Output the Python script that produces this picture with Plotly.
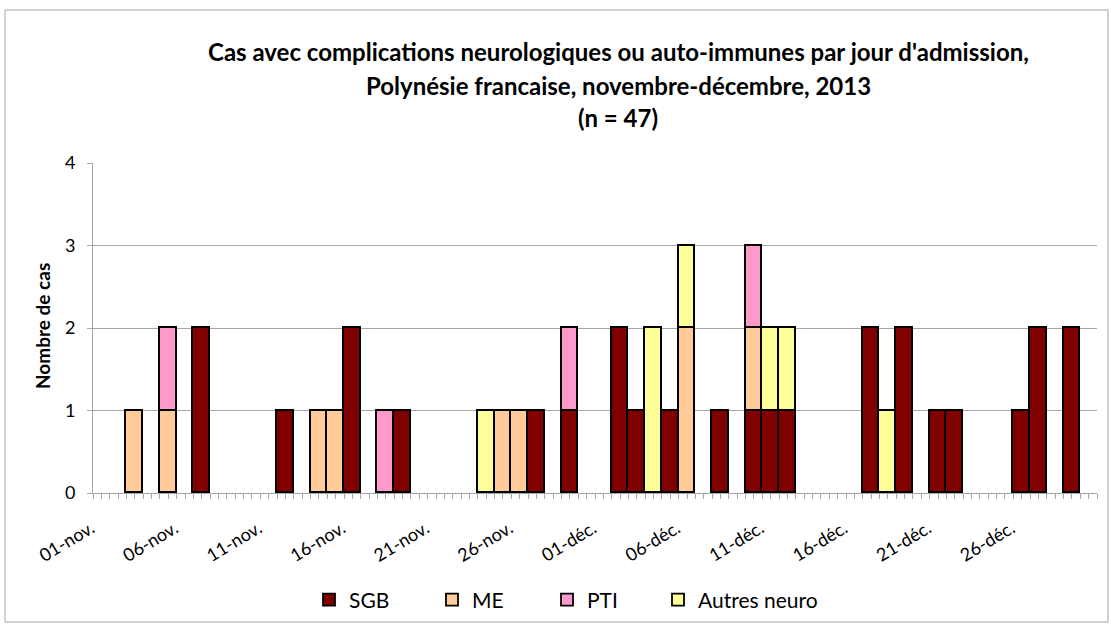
import plotly.graph_objects as go

# Days (2013) and counts per category
dates = ["2013-11-03", "2013-11-05", "2013-11-07", "2013-11-12", "2013-11-14", "2013-11-15",
         "2013-11-16", "2013-11-18", "2013-11-19", "2013-11-24", "2013-11-25", "2013-11-26",
         "2013-11-27", "2013-11-29", "2013-12-02", "2013-12-03", "2013-12-04", "2013-12-05",
         "2013-12-06", "2013-12-08", "2013-12-10", "2013-12-11", "2013-12-12", "2013-12-17",
         "2013-12-18", "2013-12-19", "2013-12-21", "2013-12-22", "2013-12-26", "2013-12-27",
         "2013-12-29"]
sgb    = [0, 0, 2, 1, 0, 0, 2, 0, 1, 0, 0, 0, 1, 1, 2, 1, 0, 1, 0, 1, 1, 1, 1, 2, 0, 2, 1, 1, 1, 2, 2]
me     = [1, 1, 0, 0, 1, 1, 0, 0, 0, 0, 1, 1, 0, 0, 0, 0, 0, 0, 2, 0, 1, 0, 0, 0, 0, 0, 0, 0, 0, 0, 0]
pti    = [0, 1, 0, 0, 0, 0, 0, 1, 0, 0, 0, 0, 0, 1, 0, 0, 0, 0, 0, 0, 1, 0, 0, 0, 0, 0, 0, 0, 0, 0, 0]
autres = [0, 0, 0, 0, 0, 0, 0, 0, 0, 1, 0, 0, 0, 0, 0, 0, 2, 0, 1, 0, 0, 1, 1, 0, 1, 0, 0, 0, 0, 0, 0]

tick_dates = ["2013-11-01", "2013-11-06", "2013-11-11", "2013-11-16", "2013-11-21", "2013-11-26",
              "2013-12-01", "2013-12-06", "2013-12-11", "2013-12-16", "2013-12-21", "2013-12-26"]
tick_labels = ["01-nov.", "06-nov.", "11-nov.", "16-nov.", "21-nov.", "26-nov.",
               "01-déc.", "06-déc.", "11-déc.", "16-déc.", "21-déc.", "26-déc."]

series = [("SGB", sgb, "#800000"), ("ME", me, "#FFCC99"),
          ("PTI", pti, "#FF99CC"), ("Autres neuro", autres, "#FFFF99")]

FONT = "Lato"
W, H = 1111, 626
L, R, T, B = 93, 14, 163, 133
PW, PH = W - L - R, H - T - B


def px(x):
    return (x - L) / PW


def py(y):
    return (H - B - y) / PH


legend_names = ["legend", "legend2", "legend3", "legend4"]
legend_x = [309, 432, 547, 658]

fig = go.Figure()
for (name, vals, col), lg in zip(series, legend_names):
    fig.add_trace(go.Bar(
        x=dates, y=vals, name=name, legend=lg,
        marker=dict(color=col, line=dict(color="black", width=1.8)),
        width=86400000,
    ))

layout_legends = {}
for lg, lx in zip(legend_names, legend_x):
    layout_legends[lg] = dict(x=px(lx), xanchor="left", y=py(600), yanchor="middle",
                              font=dict(size=21, family=FONT), itemwidth=30,
                              bgcolor="rgba(0,0,0,0)")

fig.update_layout(
    barmode="stack",
    bargap=0,
    width=W, height=H,
    margin=dict(l=L, r=R, t=T, b=B, autoexpand=False),
    paper_bgcolor="white", plot_bgcolor="white",
    font=dict(family=FONT, color="black"),
    showlegend=True,
    xaxis=dict(
        type="date",
        range=["2013-10-31 12:00", "2013-12-30 12:00"],
        tickvals=tick_dates, ticktext=tick_labels, tickangle=-31,
        tickfont=dict(size=18, family=FONT),
        ticklabelstandoff=12, ticklabelshift=-10,
        showgrid=False, zeroline=False,
        showline=True, linecolor="#A6A6A6", linewidth=1,
        ticks="outside", ticklen=5, tickcolor="#A6A6A6",
        minor=dict(dtick=43200000, tick0="2013-10-31 12:00", ticks="outside",
                   ticklen=5, tickcolor="#A6A6A6", showgrid=False),
    ),
    yaxis=dict(
        range=[0, 4], dtick=1, tickfont=dict(size=18, family=FONT),
        showgrid=True, gridcolor="#A6A6A6", gridwidth=1,
        zeroline=False, showline=True, linecolor="#A6A6A6", linewidth=1,
        ticks="outside", ticklen=5, tickcolor="#A6A6A6", ticklabelstandoff=8,
    ),
    **layout_legends,
)

title_lines = ["Cas avec complications neurologiques ou auto-immunes par jour d'admission,",
               "Polynésie francaise, novembre-décembre, 2013",
               "(n = 47)"]
for txt, yy in zip(title_lines, [52, 85, 117]):
    fig.add_annotation(text="<b>%s</b>" % txt, xref="paper", yref="paper", x=px(618), y=py(yy),
                       xanchor="center", yanchor="middle", showarrow=False,
                       font=dict(size=24, family=FONT))

fig.add_annotation(text="<b>Nombre de cas</b>", xref="paper", yref="paper", x=px(42), y=py(326),
                   textangle=-90, xanchor="center", yanchor="middle", showarrow=False,
                   font=dict(size=19, family=FONT))

# outer chart frame
fig.add_shape(type="rect", xref="paper", yref="paper",
              x0=px(5), x1=px(1108), y0=py(622), y1=py(10),
              line=dict(color="#A6A6A6", width=1), layer="below")

fig.write_html("out.html", config={"displayModeBar": False},
               post_script="document.body.style.margin='0';document.body.style.overflow='hidden';")
